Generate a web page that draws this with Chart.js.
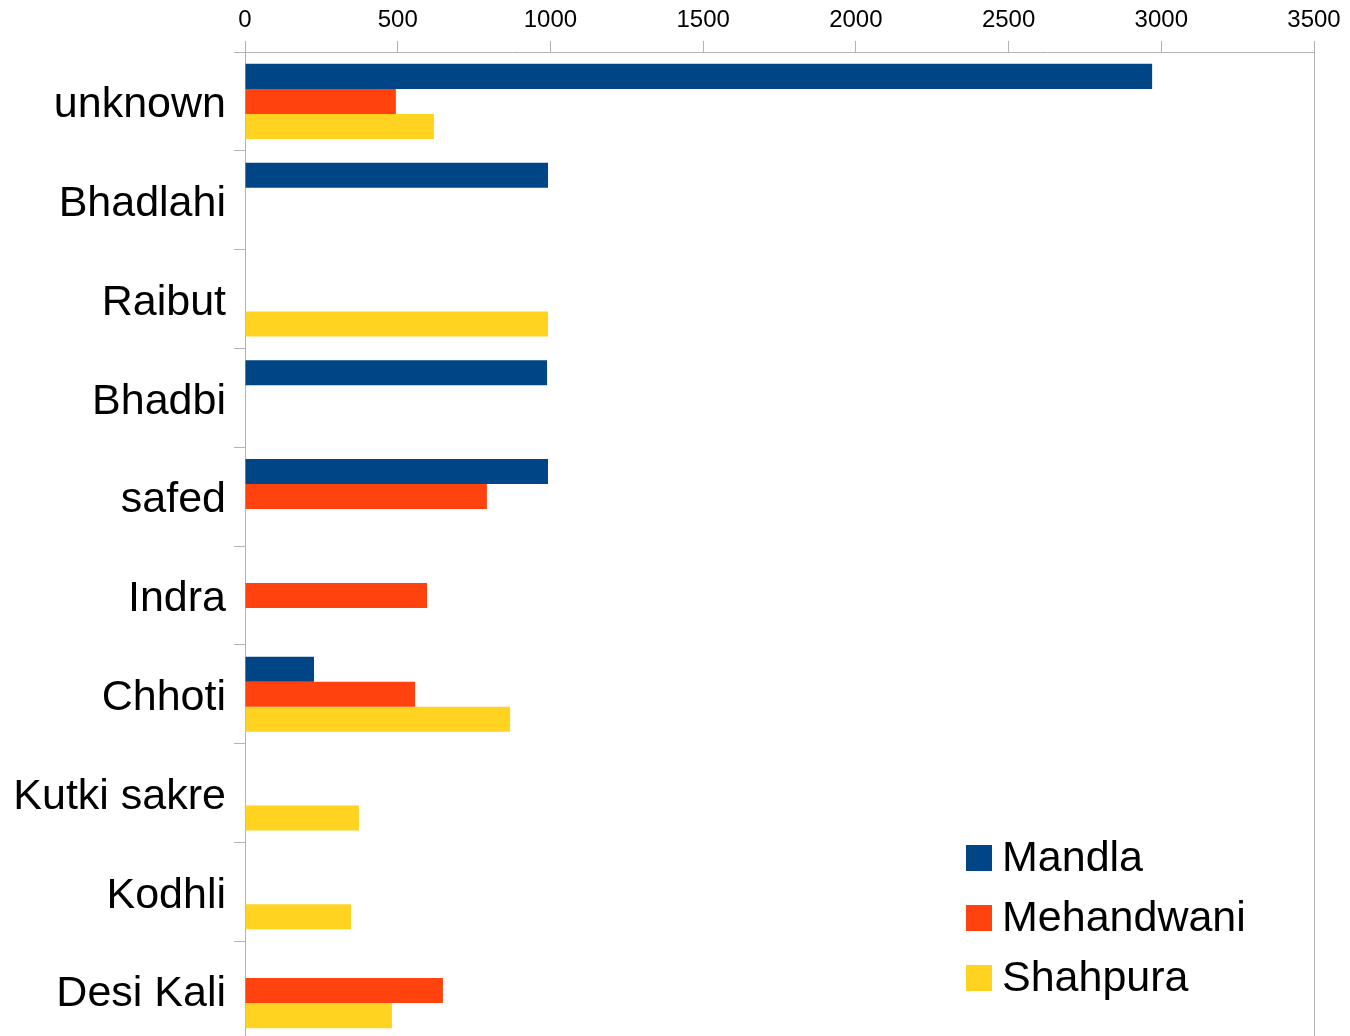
<!DOCTYPE html>
<html>
<head>
<meta charset="utf-8">
<script src="https://cdn.jsdelivr.net/npm/chart.js@4.4.0/dist/chart.umd.min.js"></script>
<style>
  html, body { margin: 0; padding: 0; overflow: hidden; background: #fff; }
</style>
</head>
<body>
<canvas id="chart" width="1350" height="1040"></canvas>
<script>
const categories = ['unknown', 'Bhadlahi', 'Raibut', 'Bhadbi', 'safed', 'Indra', 'Chhoti', 'Kutki sakre', 'Kodhli', 'Desi Kali'];
const mandla = [2970, 992, null, 989, 992, null, 226, null, null, null];
const mehandwani = [494, null, null, null, 792, 596, 557, null, null, 648];
const shahpura = [619, null, 992, null, null, null, 868, 373, 347, 481];
const xTicks = [0, 500, 1000, 1500, 2000, 2500, 3000, 3500];

const gray = '#b3b3b3';
const font = 'Liberation Sans, Arial, sans-serif';

// legend sits inside the plot, bottom right
const boxLegend = {
  id: 'boxLegend',
  afterDraw(chart) {
    const c = chart.ctx;
    c.save();
    c.font = '43px ' + font;
    c.textBaseline = 'middle';
    chart.data.datasets.forEach((ds, i) => {
      const y = 858 + i * 60;
      c.fillStyle = ds.backgroundColor;
      c.fillRect(966, y - 13, 26, 26);
      c.fillStyle = '#000';
      c.fillText(ds.label, 1002, y + 1);
    });
    c.restore();
  }
};

new Chart(document.getElementById('chart'), {
  type: 'bar',
  data: {
    labels: categories,
    datasets: [
      { label: 'Mandla', data: mandla, backgroundColor: '#004586' },
      { label: 'Mehandwani', data: mehandwani, backgroundColor: '#ff420e' },
      { label: 'Shahpura', data: shahpura, backgroundColor: '#ffd320' }
    ]
  },
  options: {
    indexAxis: 'y',
    responsive: false,
    animation: false,
    layout: { padding: { left: 0, right: 36, top: 0, bottom: 0 } },
    datasets: { bar: { categoryPercentage: 0.76, barPercentage: 1.0 } },
    plugins: { legend: { display: false }, tooltip: { enabled: false } },
    scales: {
      x: {
        position: 'top',
        min: 0,
        max: 3500,
        afterBuildTicks: s => { s.ticks = xTicks.map(v => ({ value: v })); },
        afterFit: s => { s.height = 52; s.paddingLeft = 0; s.paddingRight = 0; },
        border: { color: gray, width: 1 },
        grid: {
          color: ctx => (ctx.tick && ctx.tick.value === 3500 ? gray : 'rgba(0,0,0,0)'),
          tickColor: gray,
          tickLength: 11
        },
        ticks: {
          color: '#000',
          padding: 6,
          font: { family: font, size: 24 },
          callback: v => String(v)
        }
      },
      y: {
        afterFit: s => { s.width = 245; s.paddingTop = 0; s.paddingBottom = 0; },
        border: { color: gray, width: 1 },
        grid: { offset: true, drawOnChartArea: false, tickColor: gray, tickLength: 11 },
        ticks: { color: '#000', padding: 8, labelOffset: 4, font: { family: font, size: 43 } }
      }
    }
  },
  plugins: [boxLegend]
});
</script>
</body>
</html>
